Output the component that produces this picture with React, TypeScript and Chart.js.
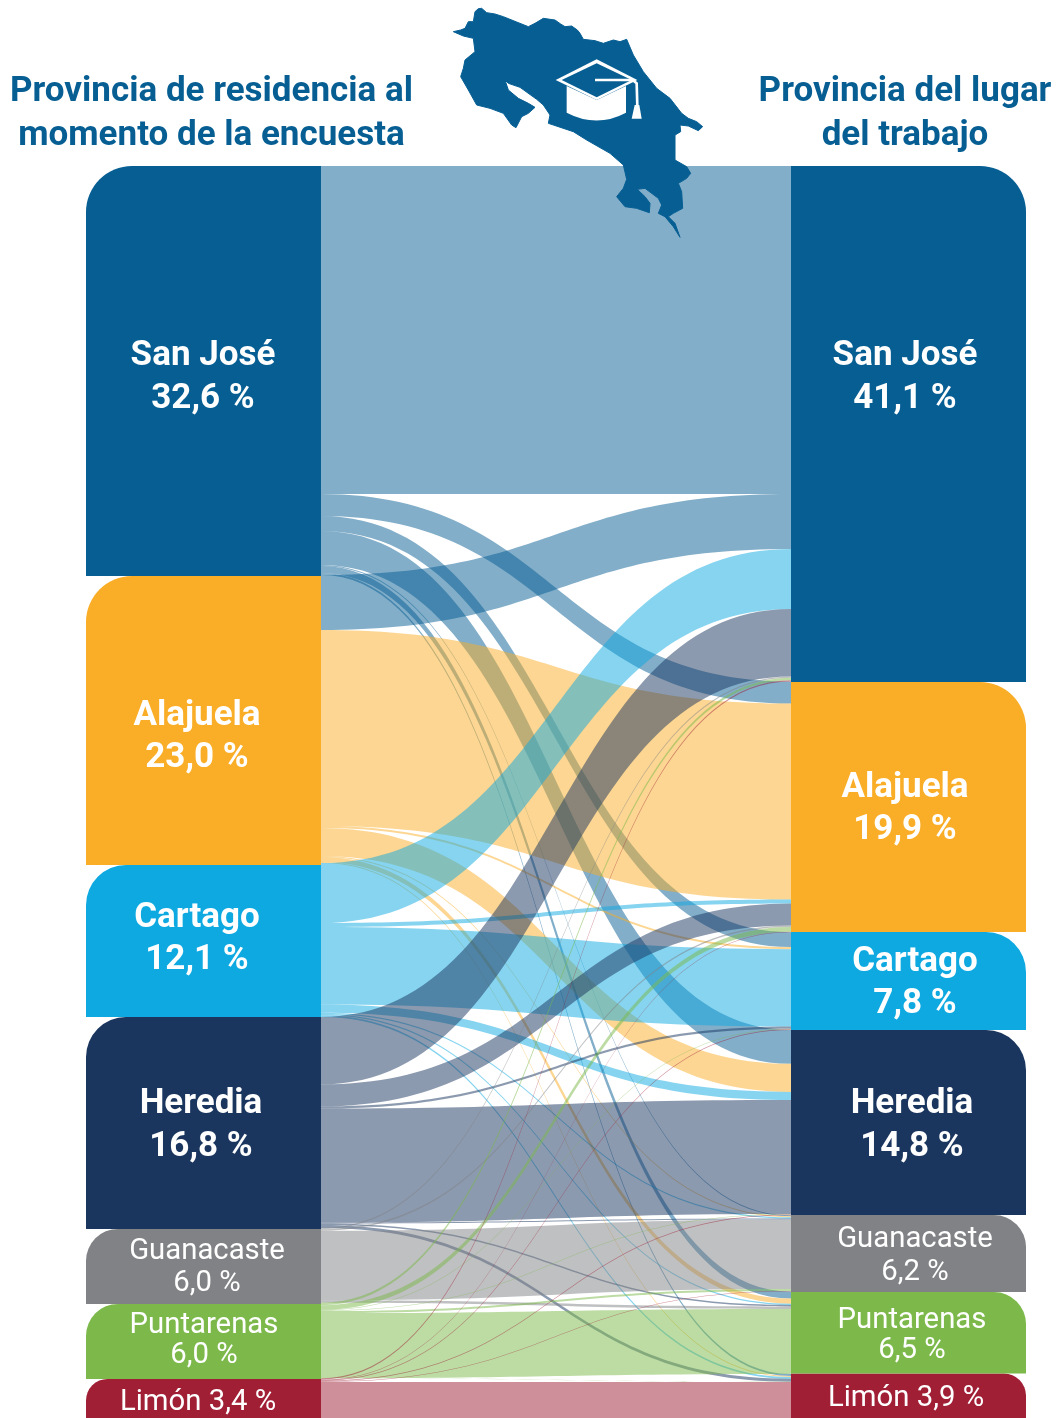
import React, { useEffect, useRef } from "react";
import { Chart, registerables } from "chart.js";

Chart.register(...registerables);

const categories = ["Provincia de residencia", "Provincia del lugar de trabajo"];
const provinces = ["San José", "Alajuela", "Cartago", "Heredia", "Guanacaste", "Puntarenas", "Limón"];
const residenceShares = [32.59, 22.97, 12.08, 16.85, 5.96, 5.96, 3.42];
const workShares = [41.02, 19.87, 7.79, 14.71, 6.12, 6.48, 3.95];
const residenceLabels = ["32,6 %", "23,0 %", "12,1 %", "16,8 %", "6,0 %", "6,0 %", "3,4 %"];
const workLabels = ["41,1 %", "19,9 %", "7,8 %", "14,8 %", "6,2 %", "6,5 %", "3,9 %"];

// Rows: province of residence. Columns: province of work.
const fromSanJose = [26.07, 1.75, 1.19, 2.7, 0.08, 0.56, 0.16];
const fromAlajuela = [4.37, 15.58, 0.16, 2.23, 0.08, 0.4, 0.08];
const fromCartago = [4.77, 0.32, 6.16, 0.64, 0.1, 0.1, 0.14];
const fromHeredia = [5.37, 1.75, 0.16, 9.06, 0.08, 0.12, 0.24];
const fromGuanacaste = [0.1, 0.12, 0, 0, 5.52, 0.2, 0];
const fromPuntarenas = [0.2, 0.36, 0.05, 0.05, 0.16, 5.17, 0.02];
const fromLimon = [0.1, 0.04, 0.05, 0.05, 0.05, 0, 3.34];
const flows = [fromSanJose, fromAlajuela, fromCartago, fromHeredia, fromGuanacaste, fromPuntarenas, fromLimon];

const COLORS = ["#065E93", "#FAAD26", "#0EA9E1", "#1A365F", "#808285", "#7CB94A", "#A01F35"];
const AXIS_MAX = 99.52;
const NODE_RADII = [46, 46, 40, 40, 32, 32, 22];
const LABEL_X_RES = [203, 197, 197, 201, 207, 204, 198];
const LABEL_X_WORK = [905, 905, 915, 912, 915, 912, 906];
const LABEL_Y_RES = [[356, 399], [716, 758], [918, 960], [1104, 1147], [1252, 1284], [1326, 1356], [1402.5]];
const LABEL_Y_WORK = [[356, 399], [788, 830], [962, 1004], [1104, 1147], [1240, 1273], [1321, 1351], [1398.5]];

function ranges(shares: number[]) {
  let c = 0;
  return shares.map((s) => {
    const r = [c, c + s];
    c += s;
    return r;
  });
}

const ribbonPlugin = {
  id: "ribbons",
  beforeDatasetsDraw(chart: any) {
    const { ctx, scales } = chart;
    const y = scales.y;
    const meta = chart.getDatasetMeta(0).data[0];
    const metaR = chart.getDatasetMeta(7).data[1];
    const x0 = meta.x + meta.width / 2;
    const x1 = metaR.x - metaR.width / 2;
    const xm = (x0 + x1) / 2;
    const leftStart: number[] = [];
    const rightStart: number[] = [];
    let acc = 0;
    flows.forEach((row, s) => {
      leftStart[s] = acc;
      acc += row.reduce((a, b) => a + b, 0);
    });
    acc = 0;
    provinces.forEach((_, t) => {
      rightStart[t] = acc;
      acc += flows.reduce((a, row) => a + row[t], 0);
    });
    const links: any[] = [];
    flows.forEach((row, s) => {
      let l = leftStart[s];
      row.forEach((v, t) => {
        let r = rightStart[t];
        for (let k = 0; k < s; k++) r += flows[k][t];
        if (v > 0) links.push({ s, t, l, r, v });
        l += v;
      });
    });
    ctx.save();
    ctx.beginPath();
    ctx.rect(x0, 0, x1 - x0, chart.height);
    ctx.clip();
    ctx.globalAlpha = 0.5;
    links.forEach(({ s, t, l, r, v }) => {
      const a0 = y.getPixelForValue(l);
      const a1 = y.getPixelForValue(l + v);
      const b0 = y.getPixelForValue(r);
      const b1 = y.getPixelForValue(r + v);
      ctx.fillStyle = s === 1 && t === 0 ? COLORS[0] : COLORS[s];
      ctx.beginPath();
      ctx.moveTo(x0, a0);
      ctx.bezierCurveTo(xm, a0, xm, b0, x1, b0);
      ctx.lineTo(x1, b1);
      ctx.bezierCurveTo(xm, b1, xm, a1, x0, a1);
      ctx.closePath();
      ctx.fill();
    });
    ctx.restore();
  },
  afterDatasetsDraw(chart: any) {
    const { ctx } = chart;
    ctx.save();
    ctx.textAlign = "center";
    ctx.textBaseline = "middle";
    ctx.fillStyle = COLORS[0];
    ctx.font = "700 35px Roboto";
    ctx.fillText("Provincia de residencia al", 211.5, 92.5);
    ctx.fillText("momento de la encuesta", 211.5, 136);
    ctx.fillText("Provincia del lugar", 905, 92.5);
    ctx.fillText("del trabajo", 905, 136);
    ctx.fillStyle = "#FFFFFF";
    const draw = (xs: number[], ys: number[][], labels: string[]) => {
      provinces.forEach((p, i) => {
        const small = i >= 4;
        ctx.font = small ? "400 29.3px Roboto" : "700 35px Roboto";
        if (ys[i].length === 1) {
          ctx.fillText(`${p} ${labels[i]}`, xs[i], ys[i][0]);
        } else {
          ctx.fillText(p, xs[i], ys[i][0]);
          ctx.fillText(labels[i], xs[i], ys[i][1]);
        }
      });
    };
    draw(LABEL_X_RES, LABEL_Y_RES, residenceLabels);
    draw(LABEL_X_WORK, LABEL_Y_WORK, workLabels);
    ctx.restore();
  },
};

const MAP_PATH =
  "M40,95 L62,90 L75,85 L85,65 L100,65 L105,35 L115,26 L125,25 L140,38 L165,42 L190,50 L230,66 L265,80 L285,70 L310,55 L345,60 L362,72 L375,80 L395,78 L412,90 L420,100 L430,118 L465,122 L490,130 L520,120 L540,125 L560,118 L580,165 L610,215 L650,265 L690,295 L725,340 L745,355 L770,365 L788,380 L775,392 L745,378 L720,375 L722,395 L705,405 L705,480 L740,500 L752,520 L740,535 L715,550 L725,575 L728,625 L700,640 L685,650 L705,670 L720,712 L700,680 L675,650 L655,640 L665,615 L655,595 L615,565 L592,568 L615,590 L630,610 L628,638 L590,625 L555,620 L530,590 L550,565 L560,538 L550,495 L510,460 L440,420 L400,395 L325,370 L330,345 L310,315 L290,298 L240,262 L205,250 L195,240 L205,270 L235,295 L265,310 L285,322 L265,340 L245,350 L228,383 L215,375 L190,340 L150,325 L110,315 L85,270 L62,230 L70,205 L75,180 L105,155 L100,115 L70,108 Z";

export default function App() {
  const ref = useRef<HTMLCanvasElement | null>(null);
  useEffect(() => {
    if (!ref.current) return;
    const res = ranges(residenceShares);
    const work = ranges(workShares);
    const base = { clip: false as const, barThickness: 235, borderSkipped: false as const, inflateAmount: 0, borderWidth: 0 };
    const datasets = [
      ...provinces.map((p, i) => ({
        ...base,
        label: `${p} (residencia)`,
        data: [res[i], null],
        backgroundColor: COLORS[i],
        borderRadius: { topLeft: NODE_RADII[i], topRight: 0, bottomLeft: 0, bottomRight: 0 },
      })),
      ...provinces.map((p, i) => ({
        ...base,
        label: `${p} (trabajo)`,
        data: [null, work[i]],
        backgroundColor: COLORS[i],
        borderRadius: { topLeft: 0, topRight: NODE_RADII[i], bottomLeft: 0, bottomRight: 0 },
      })),
    ];
    const chart = new Chart(ref.current, {
      type: "bar",
      data: { labels: categories, datasets: datasets as any },
      plugins: [ribbonPlugin],
      options: {
        responsive: false,
        animation: false,
        devicePixelRatio: 1,
        layout: { padding: { left: 203.5, right: 147.5, top: 166, bottom: 0 } },
        plugins: { legend: { display: false }, tooltip: { enabled: false }, title: { display: false } },
        datasets: { bar: { grouped: false } },
        scales: {
          x: { display: false, offset: false },
          y: { display: false, reverse: true, min: 0, max: AXIS_MAX },
        },
      } as any,
    });
    return () => chart.destroy();
  }, []);
  return (
    <div style={{ position: "absolute", left: 0, top: 0, width: 1056, height: 1418, overflow: "hidden", background: "#fff" }}>
      <canvas ref={ref} width={1056} height={1418} style={{ display: "block" }} />
      <svg viewBox="0 0 840 735" width={280} height={245} style={{ position: "absolute", left: 440, top: 0 }} aria-hidden="true">
        <path d={MAP_PATH} fill={COLORS[0]} stroke={COLORS[0]} strokeWidth="3" strokeLinejoin="round" />
        <polygon points="347,240 470,178 592,240 470,300" fill="#fff" />
        <polygon points="365,240 470,190 575,240 470,292" fill={COLORS[0]} />
        <path d="M380,258 L470,300 L558,258 L558,338 Q470,385 380,338 Z" fill="#fff" />
        <path d="M465,240 L578,240 L590,250 L592,318" fill="none" stroke="#fff" strokeWidth="8" />
        <polygon points="575,356 605,356 598,315 584,315" fill="#fff" />
      </svg>
    </div>
  );
}
